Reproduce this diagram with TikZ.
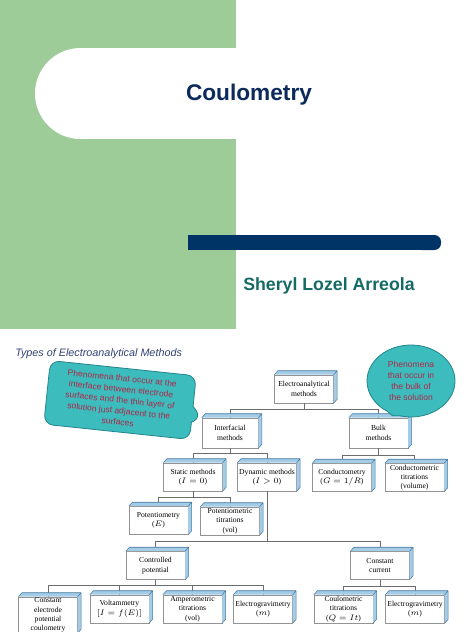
\documentclass[tikz,border=0pt]{standalone}
\usepackage{amsmath}
\usepackage{fontspec}
\setmainfont{Liberation Serif}
\newfontfamily\slidefont{Liberation Sans}
\usepackage{xcolor}
\usepackage{tikz}
\usetikzlibrary{shapes.geometric,shapes.callouts}

\definecolor{slidegreen}{RGB}{157,204,153}
\definecolor{slidenavy}{RGB}{0,51,102}
\definecolor{titlenavy}{RGB}{12,42,92}
\definecolor{nameteal}{RGB}{22,106,102}
\definecolor{headblue}{RGB}{48,66,116}
\definecolor{bubbleteal}{RGB}{60,188,188}
\definecolor{bubbleedge}{RGB}{36,132,140}
\definecolor{bubbletext}{RGB}{178,38,72}
\definecolor{boxblue}{RGB}{164,204,230}
\definecolor{boxedge}{RGB}{72,122,164}

\begin{document}
\begin{tikzpicture}[x=0.75pt,y=-0.75pt,
  method/.style={rectangle,draw=gray!85,fill=white,line width=0.4pt,minimum width=44pt,minimum height=21pt,inner xsep=1pt,inner ysep=0.5pt,align=center,font=\fontsize{5.7}{7}\selectfont},
  link/.style={draw=gray!85!black,line width=0.4pt},
  bubble/.style={fill=bubbleteal,draw=bubbleedge,line width=0.6pt,text=bubbletext,align=center,font=\slidefont\fontsize{6.4}{8.2}\selectfont}]
  \useasboundingbox (0,0) rectangle (474,632);
  \clip (0,0) rectangle (474,632);
  \fill[slidegreen] (0,0) rectangle (236,329);
  \fill[white] (80.5,93.5) circle[radius=45.5];
  \fill[white] (80,48) rectangle (300,139);
  \fill[slidenavy] (188,235) rectangle (430,250);
  \fill[slidenavy,rounded corners=5] (415,235) rectangle (441,250);
  \node[font=\slidefont\bfseries\fontsize{17}{20}\selectfont,text=titlenavy] (title) at (249,95) {Coulometry};
  \node[font=\slidefont\bfseries\fontsize{13.3}{16}\selectfont,text=nameteal] (author) at (329,286) {Sheryl Lozel Arreola};
  \node[anchor=west,inner sep=0pt,font=\slidefont\itshape\fontsize{8.1}{10}\selectfont,text=headblue] (heading) at (15,354) {Types of Electroanalytical Methods};

  \node[method] (ea) at (304,389) {Electroanalytical\\methods};
  \node[method,minimum width=42pt,minimum height=22.5pt] (inter) at (230,433) {Interfacial\\methods};
  \node[method,minimum height=22.5pt] (bulk) at (378.5,433) {Bulk\\methods};
  \node[method] (static) at (193,477) {Static methods\\($I=0$)};
  \node[method] (dynamic) at (267,477) {Dynamic methods\\($I>0$)};
  \node[method] (conduct) at (342,477.5) {Conductometry\\($G=1/R$)};
  \node[method] (condtitr) at (414.5,477.5) {Conductometric\\titrations\\(volume)};
  \node[method] (potent) at (158.5,520.5) {Potentiometry\\($E$)};
  \node[method] (pottitr) at (230,521) {Potentiometric\\titrations\\(vol)};
  \node[method] (ctrlpot) at (155.5,565.5) {Controlled\\potential};
  \node[method] (constcur) at (380,565.5) {Constant\\current};
  \node[method] (cepc) at (48,615) {Constant\\electrode\\potential\\coulometry};
  \node[method] (voltam) at (119.5,609) {Voltammetry\\$[I=f(E)]$};
  \node[method] (ampero) at (192.5,609) {Amperometric\\titrations\\(vol)};
  \node[method] (egravA) at (263,609) {Electrogravimetry\\($m$)};
  \node[method] (coultitr) at (343.5,609) {Coulometric\\titrations\\($Q=It$)};
  \node[method] (egravB) at (415,609) {Electrogravimetry\\($m$)};

  \draw[link] (ea.south) -- ++(0,6) -| (inter.north);
  \draw[link] (ea.south) -- ++(0,6) -| (bulk.north);
  \draw[link] (inter.south) -- ++(0,5) -| (static.north);
  \draw[link] (inter.south) -- ++(0,5) -| (dynamic.north);
  \draw[link] (bulk.south) -- ++(0,7) -| (conduct.north);
  \draw[link] (bulk.south) -- ++(0,7) -| (condtitr.north);
  \draw[link] (static.south) -- ++(0,6) -| (potent.north);
  \draw[link] (static.south) -- ++(0,6) -| (pottitr.north);
  \draw[link] (dynamic.south) -- ++(0,50) -| (ctrlpot.north);
  \draw[link] (dynamic.south) -- ++(0,50) -| (constcur.north);
  \draw[link] (ctrlpot.south) -- ++(0,5) -| (cepc.north);
  \draw[link] (ctrlpot.south) -- ++(0,5) -| (voltam.north);
  \draw[link] (ctrlpot.south) -- ++(0,5) -| (ampero.north);
  \draw[link] (ctrlpot.south) -- ++(0,5) -| (egravA.north);
  \draw[link] (constcur.south) -- ++(0,6) -| (coultitr.north);
  \draw[link] (constcur.south) -- ++(0,6) -| (egravB.north);

  % raised top and right faces of the boxes
  \foreach \b in {ea,inter,bulk,static,dynamic,conduct,condtitr,potent,pottitr,ctrlpot,constcur,cepc,voltam,ampero,egravA,coultitr,egravB}{
    \fill[boxblue] (\b.north west) -- ([shift={(3.5,-4)}]\b.north west) -- ([shift={(3.5,-4)}]\b.north east) -- ([shift={(3.5,-4)}]\b.south east) -- (\b.south east) -- (\b.north east) -- cycle;
    \draw[boxedge,line width=0.4pt,line join=round] (\b.north west) -- ([shift={(3.5,-4)}]\b.north west) -- ([shift={(3.5,-4)}]\b.north east) -- ([shift={(3.5,-4)}]\b.south east) -- (\b.south east) (\b.north east) -- ([shift={(3.5,-4)}]\b.north east);
  }

  \node[bubble,rectangle callout,rounded corners=7pt,rotate=-6,minimum width=110pt,minimum height=48pt,inner sep=1pt,callout absolute pointer={(inter.north west)},callout pointer width=12pt] (surfnote) at (120,400) {Phenomena that occur at the\\interface between electrode\\surfaces and the thin layer of\\solution just adjacent to the\\surfaces};
  \node[bubble,ellipse callout,minimum width=66pt,minimum height=54pt,inner sep=0pt,callout absolute pointer={([shift={(14,-2)}]bulk.north)},callout pointer arc=18] (bulknote) at (411,381) {Phenomena\\that occur in\\the bulk of\\the solution};
\end{tikzpicture}
\end{document}
